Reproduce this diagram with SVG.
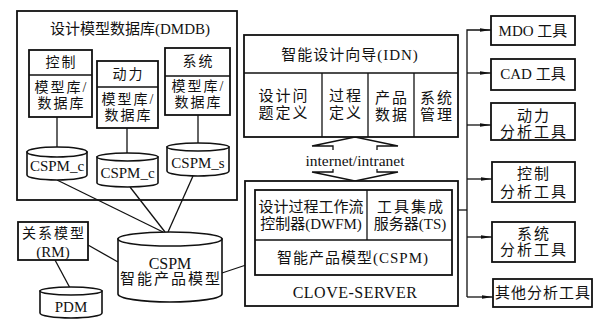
<svg xmlns="http://www.w3.org/2000/svg" width="600" height="322" viewBox="0 0 600 322">
<style>
.b{fill:#fff;stroke:#111;stroke-width:1.8}
.c{fill:#fff;stroke:#111;stroke-width:1.6}
.l{fill:none;stroke:#111;stroke-width:1.3}
.t{font-family:"Liberation Serif","Noto Sans CJK SC",serif;font-size:14px;fill:#111;text-anchor:middle;dominant-baseline:central}
.s{font-size:15px}
.e{letter-spacing:1px}
.w{letter-spacing:2px}
</style>
<defs>
<marker id="ah" markerWidth="12" markerHeight="6" refX="11" refY="3" orient="auto" markerUnits="userSpaceOnUse">
<path d="M0,1.2 L11,3 L0,4.8 Z" fill="#111"/>
</marker>
</defs>
<rect width="600" height="322" fill="#fff"/>

<g id="connectors">
<line class="l" x1="57" y1="117" x2="57" y2="148"/>
<line class="l" x1="127" y1="128" x2="127" y2="153"/>
<line class="l" x1="198" y1="115" x2="198" y2="143"/>
<line class="l" x1="57" y1="180" x2="163" y2="232"/>
<line class="l" x1="130" y1="187" x2="165" y2="232"/>
<line class="l" x1="193" y1="176" x2="168" y2="232"/>
<line class="l" x1="88" y1="245" x2="118" y2="262"/>
<line class="l" x1="55" y1="260" x2="70" y2="288"/>
<line class="l" x1="222" y1="273" x2="255" y2="262"/>
<line class="l" x1="452" y1="210" x2="467" y2="210"/>
<polyline class="l" points="467,297 467,30 491,30" marker-end="url(#ah)"/>
<line class="l" x1="467" y1="73" x2="491" y2="73" marker-end="url(#ah)"/>
<line class="l" x1="467" y1="125" x2="491" y2="125" marker-end="url(#ah)"/>
<line class="l" x1="467" y1="179" x2="492" y2="179" marker-end="url(#ah)"/>
<line class="l" x1="467" y1="237" x2="492" y2="237" marker-end="url(#ah)"/>
<line class="l" x1="467" y1="297" x2="493" y2="297" marker-end="url(#ah)"/>
<polyline class="l" points="333,150 333,146 312,146 355,137 398,146 377,146 377,150"/>
<polyline class="l" points="333,169 333,172 312,172 355,181 398,172 377,172 377,169"/>
<text class="t s" x="355" y="160" style="font-size:15.5px">internet/intranet</text>
</g>

<g id="dmdb">
<rect class="b" x="17" y="11" width="220" height="189" style="fill:none"/>
<text class="t s" x="130" y="29">设计模型数据库(DMDB)</text>
</g>

<g id="kongzhi">
<rect class="b" x="29" y="50" width="63" height="67"/>
<line class="l" x1="29" y1="75" x2="92" y2="75"/>
<text class="t w" x="61.5" y="62">控制</text>
<text class="t w" x="61.5" y="87">模型库/</text>
<text class="t w" x="61.5" y="103">数据库</text>
</g>

<g id="dongli">
<rect class="b" x="97" y="61" width="61" height="67"/>
<line class="l" x1="97" y1="87" x2="158" y2="87"/>
<text class="t w" x="128.5" y="74">动力</text>
<text class="t w" x="128.5" y="99">模型库/</text>
<text class="t w" x="128.5" y="115">数据库</text>
</g>

<g id="xitong">
<rect class="b" x="165" y="48" width="65" height="67"/>
<line class="l" x1="165" y1="76" x2="230" y2="76"/>
<text class="t w" x="198.5" y="61">系统</text>
<text class="t w" x="198.5" y="86">模型库/</text>
<text class="t w" x="198.5" y="102">数据库</text>
</g>

<g id="cspm-c1">
<path class="c" d="M27,152 L27,175 A30,5 0 0 0 87,175 L87,152 Z"/>
<ellipse class="c" cx="57" cy="152" rx="30" ry="5"/>
<text class="t s" x="57" y="166">CSPM_c</text>
</g>

<g id="cspm-c2">
<path class="c" d="M97,157 L97,183 A30.5,4 0 0 0 158,183 L158,157 Z"/>
<ellipse class="c" cx="127.5" cy="157" rx="30.5" ry="4"/>
<text class="t s" x="127.5" y="173">CSPM_c</text>
</g>

<g id="cspm-s">
<path class="c" d="M167,147 L167,171 A31,5 0 0 0 229,171 L229,147 Z"/>
<ellipse class="c" cx="198" cy="147" rx="31" ry="4"/>
<text class="t s" x="198" y="163">CSPM_s</text>
</g>

<g id="cspm-main">
<path class="c" d="M118,239 L118,294 A52,8 0 0 0 222,294 L222,239 Z"/>
<ellipse class="c" cx="170" cy="239" rx="52" ry="7"/>
<text class="t s" x="170" y="263" style="font-size:16px">CSPM</text>
<text class="t s w" x="171" y="279">智能产品模型</text>
</g>

<g id="rm">
<rect class="b" x="18" y="222" width="70" height="38"/>
<text class="t w" x="54" y="233">关系模型</text>
<text class="t s" x="53" y="252">(RM)</text>
</g>

<g id="pdm">
<path class="c" d="M40,291 L40,313 A31,5 0 0 0 102,313 L102,291 Z"/>
<ellipse class="c" cx="71" cy="291" rx="31" ry="4"/>
<text class="t s" x="71" y="307">PDM</text>
</g>

<g id="idn">
<rect class="b" x="244" y="35" width="214" height="102"/>
<line class="l" x1="244" y1="73" x2="458" y2="73"/>
<line class="l" x1="322" y1="73" x2="322" y2="137"/>
<line class="l" x1="368" y1="73" x2="368" y2="137"/>
<line class="l" x1="414" y1="73" x2="414" y2="137"/>
<text class="t s e" x="350" y="55">智能设计向导(IDN)</text>
<text class="t s w" x="284" y="96">设计问</text>
<text class="t s w" x="284" y="113">题定义</text>
<text class="t s w" x="346" y="96">过程</text>
<text class="t s w" x="346" y="113">定义</text>
<text class="t s w" x="392" y="98">产品</text>
<text class="t s w" x="392" y="115">数据</text>
<text class="t s w" x="437" y="98">系统</text>
<text class="t s w" x="437" y="115">管理</text>
</g>

<g id="clove-server">
<rect class="b" x="245" y="181" width="213" height="125"/>
<rect class="b" x="255" y="190" width="197" height="85"/>
<line class="l" x1="255" y1="240" x2="452" y2="240"/>
<line class="l" x1="367" y1="190" x2="367" y2="240"/>
<text class="t s" x="311" y="207">设计过程工作流</text>
<text class="t s" x="311" y="224">控制器(DWFM)</text>
<text class="t s w" x="411" y="207">工具集成</text>
<text class="t s" x="410" y="224">服务器(TS)</text>
<text class="t s e" x="353" y="258">智能产品模型(CSPM)</text>
<text class="t s" x="355" y="292" style="font-size:16px;letter-spacing:0.5px">CLOVE-SERVER</text>
</g>

<g id="mdo">
<rect class="b" x="491" y="16" width="84" height="29"/>
<text class="t s" x="533" y="31">MDO 工具</text>
</g>
<g id="cad">
<rect class="b" x="491" y="59" width="84" height="31"/>
<text class="t s" x="533" y="74">CAD 工具</text>
</g>
<g id="dongli-tool">
<rect class="b" x="491" y="103" width="84" height="37"/>
<text class="t s w" x="534" y="116">动力</text>
<text class="t s w" x="534" y="132">分析工具</text>
</g>
<g id="kongzhi-tool">
<rect class="b" x="492" y="162" width="83" height="40"/>
<text class="t s w" x="534" y="174">控制</text>
<text class="t s w" x="534" y="192">分析工具</text>
</g>
<g id="xitong-tool">
<rect class="b" x="492" y="222" width="83" height="40"/>
<text class="t s w" x="534" y="234">系统</text>
<text class="t s w" x="534" y="250">分析工具</text>
</g>
<g id="qita-tool">
<rect class="b" x="493" y="279" width="99" height="28"/>
<text class="t s e" x="543" y="293">其他分析工具</text>
</g>
</svg>
